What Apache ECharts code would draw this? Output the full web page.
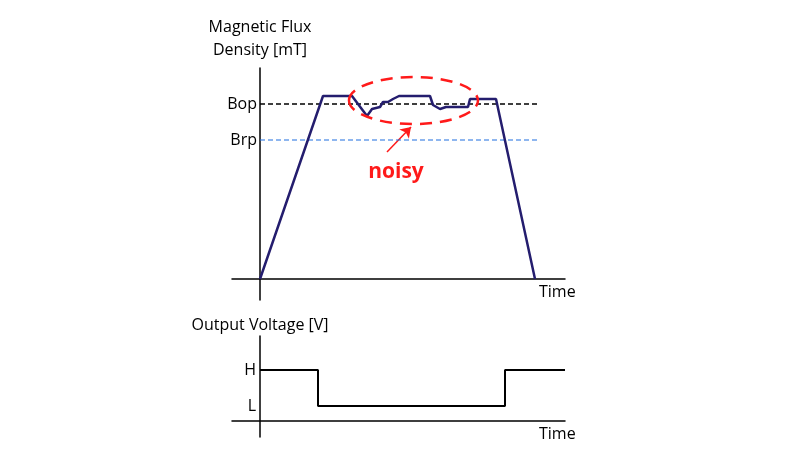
<!DOCTYPE html>
<html>
<head>
<meta charset="utf-8">
<script src="https://cdn.jsdelivr.net/npm/echarts@6/dist/echarts.min.js"></script>
<style>
  html, body { margin: 0; padding: 0; background: #fff; }
  #chart { width: 800px; height: 450px; }
</style>
</head>
<body>
<div id="chart"></div>
<script>
// time axis (arbitrary units), flux curve
const fluxTime = [0, 63, 92, 107, 112, 120, 123, 128, 133, 139, 170, 173, 180, 186, 208, 210, 236, 275]
const fluxValue = [0, 183, 183, 163, 170, 172, 177, 177, 180, 183, 183, 174, 170, 172, 172, 180, 180, 0]
const Bop = 175
const Brp = 139
const thresholdSpan = [0, 278]

// output voltage
const voltTime = [0, 58, 58, 245, 245, 305]
const voltValue = [51, 51, 15, 15, 51, 51]
const levelH = 51
const levelL = 15

const fontFamily = '"Open Sans", "Noto Sans", sans-serif'
const navy = '#241d6e'

const chart = echarts.init(document.getElementById('chart'))

const zip = (xs, ys) => xs.map((x, i) => [x, ys[i]])

const baseX = idx => ({
    type: 'value',
    gridIndex: idx,
    min: -28,
    max: 305,
    name: 'Time',
    nameLocation: 'end',
    nameGap: -26,
    nameTextStyle: {
        color: '#000', fontSize: 16, fontFamily,
        align: 'left', verticalAlign: 'top', padding: [5, 0, 0, 0]
    },
    axisLine: { onZero: true, lineStyle: { color: '#000', width: 1.5 } },
    axisTick: { show: false },
    axisLabel: { show: false },
    splitLine: { show: false }
})

const option = {
    animation: false,
    grid: [
        { left: 232, right: 235, top: 68, bottom: 150 },
        { left: 232, right: 235, top: 336, bottom: 13 }
    ],
    xAxis: [baseX(0), baseX(1)],
    yAxis: [
        {
            type: 'value',
            gridIndex: 0,
            min: -21,
            max: 211,
            name: 'Magnetic Flux\nDensity [mT]',
            nameLocation: 'end',
            nameGap: 6,
            nameTextStyle: { color: '#000', fontSize: 16, fontFamily, lineHeight: 23, align: 'center' },
            axisLine: { onZero: true, lineStyle: { color: '#000', width: 1.5 } },
            axisTick: { show: false },
            axisLabel: {
                customValues: [Bop, Brp],
                formatter: v => (v === Bop ? 'Bop' : 'Brp'),
                margin: -25,
                color: '#000', fontSize: 16, fontFamily
            },
            splitLine: { show: false }
        },
        {
            type: 'value',
            gridIndex: 1,
            min: -16,
            max: 85,
            name: 'Output Voltage [V]',
            nameLocation: 'end',
            nameGap: 3,
            nameTextStyle: { color: '#000', fontSize: 16, fontFamily, align: 'center' },
            axisLine: { onZero: true, lineStyle: { color: '#000', width: 1.5 } },
            axisTick: { show: false },
            axisLabel: {
                customValues: [levelH, levelL],
                formatter: v => (v === levelH ? 'H' : 'L'),
                margin: -24,
                color: '#000', fontSize: 16, fontFamily
            },
            splitLine: { show: false }
        }
    ],
    series: [
        {
            type: 'line', xAxisIndex: 0, yAxisIndex: 0, symbol: 'none',
            data: thresholdSpan.map(t => [t, Bop]),
            lineStyle: { color: '#000', width: 1.3, type: [5, 3] }
        },
        {
            type: 'line', xAxisIndex: 0, yAxisIndex: 0, symbol: 'none',
            data: thresholdSpan.map(t => [t, Brp]),
            lineStyle: { color: '#1f6fe0', width: 1.1, type: [5, 3] }
        },
        {
            type: 'line', xAxisIndex: 0, yAxisIndex: 0, symbol: 'none',
            data: zip(fluxTime, fluxValue),
            lineStyle: { color: navy, width: 2.5 }
        },
        {
            type: 'line', xAxisIndex: 1, yAxisIndex: 1, symbol: 'none',
            data: zip(voltTime, voltValue),
            lineStyle: { color: '#000', width: 2 }
        },
        {
            type: 'lines', coordinateSystem: 'cartesian2d', xAxisIndex: 0, yAxisIndex: 0,
            symbol: ['none', 'arrow'], symbolSize: 10,
            lineStyle: { color: '#ff1a1a', width: 1.5, opacity: 1 },
            data: [{ coords: [[127, 127], [151, 152]] }]
        }
    ]
}

chart.setOption(option)

// annotation: dashed ellipse round the noisy part and its label
const c = chart.convertToPixel({ gridIndex: 0 }, [153.5, 178.5])
const e = chart.convertToPixel({ gridIndex: 0 }, [218, 155])
const lbl = chart.convertToPixel({ gridIndex: 0 }, [136, 107])
chart.setOption({
    graphic: [
        {
            type: 'ellipse',
            shape: { cx: c[0], cy: c[1], rx: e[0] - c[0], ry: e[1] - c[1] },
            style: { fill: 'none', stroke: '#ff1a1a', lineWidth: 2.5, lineDash: [12, 8] },
            z: 10
        },
        {
            type: 'text',
            x: lbl[0],
            y: lbl[1],
            style: {
                text: 'noisy',
                fill: '#ff1a1a',
                font: 'bold 21px ' + fontFamily,
                align: 'center',
                verticalAlign: 'middle'
            }
        }
    ]
})
</script>
</body>
</html>
